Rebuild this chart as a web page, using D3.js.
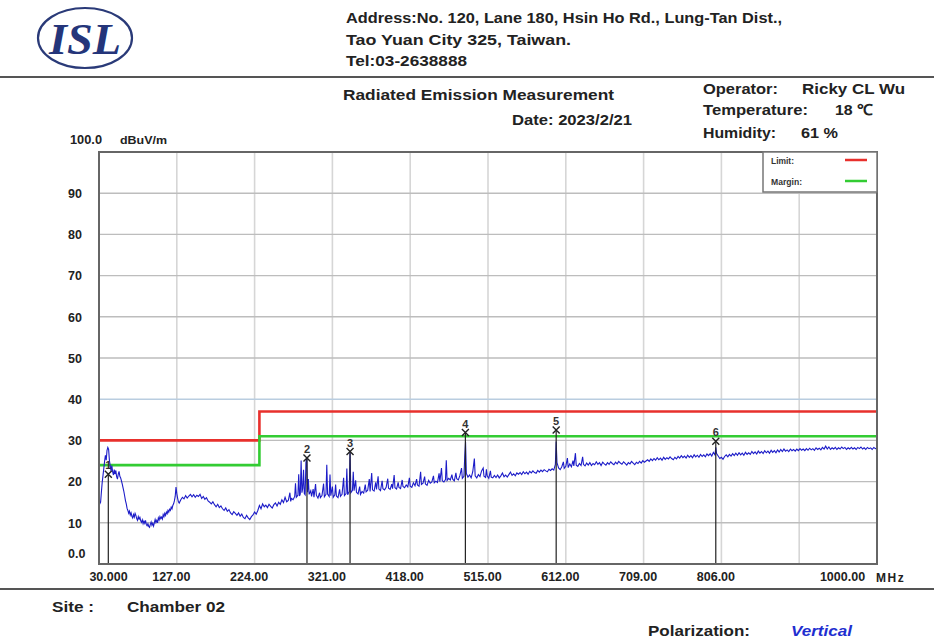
<!DOCTYPE html>
<html>
<head>
<meta charset="utf-8">
<script src="https://cdn.jsdelivr.net/npm/d3@7"></script>
<style>
  html, body { margin: 0; padding: 0; background: #fff; }
  svg { display: block; font-family: "Liberation Sans", Arial, sans-serif; }
</style>
</head>
<body>
<svg id="chart" width="934" height="642"></svg>
<script>
// ---- data ----
const xTickValues = [30, 127, 224, 321, 418, 515, 612, 709, 806, 1000];
const xTickLabels = ["30.000", "127.00", "224.00", "321.00", "418.00", "515.00", "612.00", "709.00", "806.00", "1000.00"];
const xGridValues = [127, 224, 321, 418, 515, 612, 709, 806, 903];
const yTickValues = [0, 10, 20, 30, 40, 50, 60, 70, 80, 90];
const yTickLabels = ["0.0", "10", "20", "30", "40", "50", "60", "70", "80", "90"];

// limit / margin step lines (MHz, dBuV/m)
const limitFreq = [30, 230, 230, 1000];
const limitLevel = [30, 30, 37, 37];
const marginLevel = [24, 24, 31, 31];

// peak markers
const markerIds = ["1", "2", "3", "4", "5", "6"];
const markerFreq = [41.6, 289.3, 343.0, 486.8, 600.0, 799.0];
const markerLevel = [21.8, 25.7, 27.3, 31.9, 32.5, 29.8];

// measured spectrum [MHz, dBuV/m]
const trace = [
[30,16.2],[31,14.6],[32,15.0],[33,17.5],[34,19.8],[35,21.5],[36,23.2],[37,25.0],[38,26.4],[39,25.2],[40,27.6],[41,28.3],[42,27.8],[43,25.1],[44,23.8],[45,22.6],[46,23.9],[47,22.4],[48,21.6],[49,22.9],[50,21.8],[51,22.7],[52,21.2],[53,20.6],[54,21.8],[55,22.5],[56,21.3],[57,20.9],[58,20.2],[59,19.4],[60,18.5],
[61,17.6],[62,16.5],[63,15.4],[64,14.6],[65,13.5],[66,13.0],[67,12.3],[68,12.8],[69,11.9],[70,12.4],[71,11.6],[72,11.2],[73,12.0],[74,11.4],[75,12.3],[76,11.8],[77,11.0],[78,10.6],[79,11.5],[80,10.9],[81,11.3],[82,10.5],[83,10.1],[84,10.7],[85,9.8],[86,10.4],[87,9.9],[88,10.6],[89,9.6],[90,9.3],[91,9.8],[92,9.1],[93,8.9],[94,9.6],[95,10.2],[96,9.4],[97,9.9],[98,9.2],[99,10.0],[100,10.8],[101,10.1],[102,10.6],[103,10.0],[104,11.2],[105,10.7],[106,11.5],[107,11.0],[108,11.4],[109,10.9],[110,12.0],[111,11.5],[112,12.3],[113,11.8],[114,12.6],[115,12.2],[116,13.0],[117,12.6],[118,13.3],[119,13.0],[120,13.8],[121,13.4],[122,14.2],[123,14.6],[124,15.3],[125,16.4],[126,18.7],[127,17.1],[128,16.0],[129,15.1],[130,14.8],
[132,15.6],[134,16.2],[136,15.8],[138,16.6],[140,16.0],[142,16.5],[144,16.9],[146,16.3],[148,16.8],[150,16.2],[152,16.7],[154,16.4],[156,16.9],[158,15.9],[160,16.4],[162,15.7],[164,16.1],[166,15.3],[168,15.0],[170,14.6],[172,15.1],[174,14.4],[176,13.9],[178,14.5],[180,13.7],[182,14.1],[184,13.4],[186,13.0],[188,13.6],[190,12.8],[192,13.2],[194,12.4],[196,12.0],[198,12.7],[200,12.3],[202,11.8],[204,12.4],[206,11.6],[208,12.1],[210,11.3],[212,11.0],[214,11.8],[216,11.2],[218,10.8],[220,11.5],[222,11.9],[224,12.6],[226,12.1],[228,13.0],[230,14.2],[232,13.4],[234,14.6],[236,13.9],[238,14.3],[240,13.7],[242,14.5],[244,14.0],[246,13.6],[248,14.4],[250,14.8],[252,14.1],[254,15.0],[256,14.5],[258,15.6],[260,14.9],[262,16.2],[264,15.1],[266,15.4],[268,17.3],[269,15.2],[270,15.9],[272,15.6],[274,16.4],[275,19.6],[276,16.2],[278,16.7],[279,21.8],[280,16.5],[281,17.0],[282,25.1],[283,17.3],[284,18.4],[285,22.9],[286,17.1],[287,16.8],[288,24.6],[289,25.8],[290,17.4],[291,20.6],[292,16.9],[294,17.8],[295,16.4],[297,18.2],[298,16.2],[300,19.4],[301,16.7],[303,16.0],[305,17.3],[306,16.1],[308,16.6],[310,19.5],[311,16.3],[313,16.9],[314,24.1],[315,17.0],[317,16.4],[318,21.7],[319,16.6],[321,18.8],[322,16.2],[324,16.8],[325,19.3],[326,16.5],[328,16.1],[330,18.1],[331,16.4],[333,16.9],[335,20.9],[336,16.6],[338,17.1],[339,23.2],[340,16.8],[342,17.6],[343,27.2],[344,17.3],[346,17.9],[347,22.4],[348,17.8],[350,20.3],[351,17.4],[353,17.0],[355,18.8],[356,16.9],[358,17.6],[360,17.2],[362,19.3],[363,17.5],[365,17.9],[367,20.6],[368,17.6],[370,22.1],[371,18.0],[373,17.7],[375,19.8],[376,18.1],[378,21.3],[379,18.2],[381,17.8],[383,20.2],[384,18.3],[386,18.0],[388,18.6],[390,20.7],[391,18.4],[393,18.1],[395,19.4],[396,18.3],[398,21.6],[399,18.5],[401,18.2],[403,19.8],[404,18.6],[406,18.3],[408,20.4],[409,18.8],[411,18.5],[413,19.2],[415,18.7],[417,20.9],[418,18.9],[420,18.6],[422,19.7],[424,19.0],[426,20.6],[427,19.2],[429,18.9],[431,22.4],[432,19.3],[434,19.6],[436,21.2],[437,19.4],[439,19.1],[441,20.3],[443,19.6],[445,19.9],[447,21.4],[448,19.7],[450,20.1],[452,19.8],[454,22.0],[455,20.0],[457,23.3],[458,20.2],[460,19.9],[462,20.5],[463,25.2],[464,20.3],[466,20.8],[468,20.4],[470,21.7],[471,20.6],[473,20.2],[475,22.1],[476,20.7],[478,20.4],[480,21.5],[482,23.3],[483,20.8],[485,21.3],[486,26.1],[487,29.6],[488,22.0],[490,21.1],[492,21.6],[494,20.9],[496,22.4],[498,25.6],[499,21.4],[501,20.9],[503,21.7],[505,21.2],[507,22.6],[509,23.3],[510,21.3],[512,21.0],[513,23.0],[514,21.4],[516,20.8],[518,22.6],[519,21.1],[521,20.9],[523,21.5],[525,21.0],[527,21.6],[529,20.9],[531,21.4],[533,22.1],[535,21.2],[537,21.6],[539,21.1],[541,21.7],[543,22.3],[545,21.5],[547,21.9],[549,21.4],[551,22.1],[553,21.8],[555,22.2],[557,21.7],[559,22.4],[561,21.9],[563,22.3],[565,21.8],[567,22.5],[569,22.1],[571,22.6],[573,22.2],[575,22.0],[577,22.7],[579,22.3],[581,22.8],[583,22.4],[585,22.9],[587,22.6],[589,22.4],[591,23.0],[593,22.7],[595,23.1],[597,22.8],[599,24.2],[600,29.7],[601,24.6],[603,23.3],[605,22.9],[607,23.6],[609,24.8],[610,23.2],[612,23.7],[614,25.7],[615,23.4],[617,24.3],[619,23.6],[621,25.1],[622,23.8],[624,26.9],[625,24.0],[627,23.7],[629,24.4],[631,23.9],[633,26.0],[634,24.2],[636,23.8],[638,24.5],[640,24.0],[642,24.6],[644,23.9],[646,24.4],[648,24.1],[650,24.8],[652,24.2],[654,24.6],[656,23.9],[658,24.7],[660,24.3],[662,24.0],[664,24.6],[666,24.2],[668,24.8],[670,24.4],[672,24.1],[674,24.7],[676,24.3],[678,24.9],[680,24.5],[682,24.2],[684,24.8],[686,24.4],[688,24.0],[690,24.6],[692,24.3],[694,24.9],[696,24.5],[698,24.1],[700,24.7],[702,24.4],[704,24.9],[706,24.5],[708,25.1],[710,24.7],[712,25.0],
[714,25.3],[716,24.9],[718,25.5],[720,25.1],[722,25.6],[724,25.2],[726,25.8],[728,25.3],[730,25.7],[732,25.2],[734,25.9],[736,25.4],[738,25.8],[740,25.5],[742,26.0],[744,25.6],[746,25.3],[748,25.9],[750,25.5],[752,26.1],[754,25.7],[756,26.3],[758,25.8],[760,26.2],[762,25.7],[764,26.4],[766,25.9],[768,26.3],[770,25.8],[772,26.5],[774,26.0],[776,26.4],[778,25.9],[780,26.6],[782,26.1],[784,26.5],[786,26.0],[788,26.7],[790,26.3],[792,26.8],[794,26.2],[796,27.1],[798,26.5],[799,28.3],[800,26.8],[802,26.2],[804,25.6],[806,25.9],[808,25.4],[810,26.1],[812,26.5],[814,26.0],[816,26.6],[818,26.2],[820,26.8],[822,26.3],[824,26.9],[826,26.4],[828,27.0],[830,26.5],[832,26.9],[834,26.4],[836,27.1],[838,26.6],[840,27.0],[842,26.6],[844,27.3],[846,26.8],[848,27.2],[850,26.7],[852,27.4],[854,26.9],[856,27.3],[858,26.8],[860,27.5],[862,27.0],[864,27.4],[866,26.9],[868,27.6],[870,27.1],[872,27.5],[874,27.0],[876,27.7],[878,27.2],[880,27.8],[882,27.3],[884,27.9],[886,27.4],[888,27.7],[890,27.3],[892,27.9],[894,27.5],[896,27.8],[898,27.4],[900,27.9],[902,27.5],[904,28.0],[906,27.6],[908,27.9],[910,27.5],[912,28.0],[914,27.6],[916,28.1],[918,27.7],[920,28.0],[922,27.6],[924,28.2],[926,27.8],[928,28.1],[930,27.7],[932,28.3],[934,27.9],[936,28.6],[938,27.9],[940,28.4],[942,27.8],[944,28.2],[946,27.9],[948,28.3],[950,27.8],[952,28.2],[954,27.9],[956,28.4],[958,28.0],[960,28.3],[962,27.8],[964,28.2],[966,27.9],[968,28.3],[970,27.9],[972,28.2],[974,27.8],[976,28.3],[978,28.0],[980,28.4],[982,27.9],[984,28.2],[986,27.8],[988,28.3],[990,28.0],[992,28.2],[994,27.8],[996,28.3],[998,28.0],[1000,28.1]
];

// ---- layout ----
const svg = d3.select("#chart");
const plot = { left: 99, right: 877, top: 152, bottom: 564 };
const x = d3.scaleLinear().domain([30, 1000]).range([plot.left, plot.right]);
const y = d3.scaleLinear().domain([0, 100]).range([plot.bottom, plot.top]);
const ink = "#222";

// bold label fitted to a given width
function label(g, px, py, size, str, width, fill) {
  const t = g.append("text").attr("x", px).attr("y", py)
    .attr("font-size", size).attr("font-weight", "bold").attr("fill", fill || ink).text(str);
  if (width) t.attr("textLength", width).attr("lengthAdjust", "spacingAndGlyphs");
  return t;
}

// ---- letterhead ----
const logo = svg.append("g");
logo.append("ellipse").attr("cx", 85).attr("cy", 38).attr("rx", 47).attr("ry", 30)
  .attr("fill", "#fff").attr("stroke", "#2a3a78").attr("stroke-width", 2.2);
logo.append("text").attr("x", 85).attr("y", 54).attr("text-anchor", "middle")
  .attr("font-family", "'Liberation Serif', 'DejaVu Serif', serif")
  .attr("font-size", 44).attr("font-weight", "bold").attr("font-style", "italic")
  .attr("fill", "#24357a").attr("textLength", 72).attr("lengthAdjust", "spacingAndGlyphs")
  .text("ISL");

const head = svg.append("g");
const addr = [["Address:No. 120, Lane 180, Hsin Ho Rd., Lung-Tan Dist.,", 436],
              ["Tao Yuan City 325, Taiwan.", 225],
              ["Tel:03-2638888", 121]];
addr.forEach((a, i) => label(head, 346, 23 + i * 21.5, 15, a[0], a[1]));

svg.append("line").attr("x1", 0).attr("x2", 934).attr("y1", 77).attr("y2", 77)
  .attr("stroke", "#555").attr("stroke-width", 2);
svg.append("line").attr("x1", 0).attr("x2", 934).attr("y1", 589).attr("y2", 589)
  .attr("stroke", "#555").attr("stroke-width", 2);

// title block
label(head, 343, 100, 15, "Radiated Emission Measurement", 271);
label(head, 512, 125, 15, "Date: 2023/2/21", 120);
const info = [["Operator:", 75, "Ricky CL Wu", 802, 103, 94],
              ["Temperature:", 105, "18 ℃", 835, 38, 115],
              ["Humidity:", 73, "61 %", 801, 37, 138]];
info.forEach(r => {
  label(head, 703, r[5], 15, r[0], r[1]);
  label(head, r[3], r[5], 15, r[2], r[4]);
});

// footer
label(head, 52, 612, 14, "Site :", 42);
label(head, 127, 612, 14, "Chamber 02", 98);
label(head, 648, 636, 14, "Polarization:", 102);
label(head, 791, 636, 14, "Vertical", 61, "#1f2fd0").attr("font-style", "italic");

// ---- grid ----
const grid = svg.append("g");
grid.selectAll("line.v").data(xGridValues).join("line").attr("class", "v")
  .attr("x1", d => x(d)).attr("x2", d => x(d)).attr("y1", plot.top).attr("y2", plot.bottom)
  .attr("stroke", "#d6d6d6").attr("stroke-width", 1.6);
grid.selectAll("line.h").data(yTickValues.filter(v => v > 0)).join("line").attr("class", "h")
  .attr("x1", plot.left).attr("x2", plot.right).attr("y1", d => y(d)).attr("y2", d => y(d))
  .attr("stroke", d => d === 40 ? "#b9cde0" : "#bdbdbd").attr("stroke-width", 1.4);

// ---- axes ----
const xAxis = d3.axisBottom(x).tickValues(xTickValues).tickSize(0)
  .tickFormat((d, i) => xTickLabels[i]);
const gx = svg.append("g").attr("transform", `translate(0,${plot.bottom})`).call(xAxis);
gx.select(".domain").remove();
gx.selectAll("text").attr("font-family", "'Liberation Sans', Arial, sans-serif")
  .attr("font-size", 12.5).attr("font-weight", "bold").attr("fill", ink).attr("dy", "1.1em")
  .attr("dx", (d, i) => i === 0 ? 9 : (i === xTickValues.length - 1 ? -35 : -6));
svg.append("text").attr("x", 876).attr("y", 582).attr("font-size", 12).attr("font-weight", "bold")
  .attr("fill", ink).attr("letter-spacing", 1.5).text("MHz");

const yAxis = d3.axisLeft(y).tickValues(yTickValues).tickSize(0)
  .tickFormat((d, i) => yTickLabels[i]);
const gy = svg.append("g").attr("transform", "translate(68,0)").call(yAxis);
gy.select(".domain").remove();
gy.selectAll("text").attr("font-family", "'Liberation Sans', Arial, sans-serif")
  .attr("font-size", 12.5).attr("font-weight", "bold").attr("fill", ink)
  .attr("text-anchor", "start").attr("x", 0)
  .attr("dy", d => d === 0 ? "-0.55em" : "0.35em");
label(svg, 70, 144, 12.5, "100.0", 32);
label(svg, 120, 144, 11, "dBuV/m", 47);

// ---- limit and margin ----
const stepLine = d3.line().x(d => x(d[0])).y(d => y(d[1]));
svg.append("path").datum(limitFreq.map((f, i) => [f, limitLevel[i]]))
  .attr("d", stepLine).attr("fill", "none").attr("stroke", "#e8302c").attr("stroke-width", 2.6);
svg.append("path").datum(limitFreq.map((f, i) => [f, marginLevel[i]]))
  .attr("d", stepLine).attr("fill", "none").attr("stroke", "#33cc33").attr("stroke-width", 2.6);

// ---- spectrum trace ----
svg.append("path").datum(trace)
  .attr("d", d3.line().x(d => x(d[0])).y(d => y(d[1])))
  .attr("fill", "none").attr("stroke", "#1c1cc8").attr("stroke-width", 1.1);

// ---- markers ----
const mk = svg.append("g").selectAll("g").data(markerIds).join("g");
mk.append("line")
  .attr("x1", (d, i) => x(markerFreq[i])).attr("x2", (d, i) => x(markerFreq[i]))
  .attr("y1", (d, i) => y(markerLevel[i])).attr("y2", plot.bottom)
  .attr("stroke", ink).attr("stroke-width", 1.2);
mk.append("path")
  .attr("d", (d, i) => {
    const cx = x(markerFreq[i]), cy = y(markerLevel[i]);
    return `M${cx - 3.5},${cy - 3.5}L${cx + 3.5},${cy + 3.5}M${cx + 3.5},${cy - 3.5}L${cx - 3.5},${cy + 3.5}`;
  })
  .attr("stroke", ink).attr("stroke-width", 1.4);
mk.append("text")
  .attr("x", (d, i) => x(markerFreq[i])).attr("y", (d, i) => y(markerLevel[i]) - 5)
  .attr("text-anchor", "middle").attr("font-size", 11).attr("font-weight", "bold").attr("fill", "#333")
  .text(d => d);

// ---- frame ----
svg.append("rect").attr("x", plot.left).attr("y", plot.top)
  .attr("width", plot.right - plot.left).attr("height", plot.bottom - plot.top)
  .attr("fill", "none").attr("stroke", "#666").attr("stroke-width", 2);

// ---- legend ----
const lg = svg.append("g");
lg.append("rect").attr("x", 763).attr("y", plot.top).attr("width", plot.right - 763).attr("height", 40)
  .attr("fill", "#fff").attr("stroke", "#777").attr("stroke-width", 1.5);
const legendItems = [["Limit:", "#e8302c", 23], ["Margin:", "#33cc33", 31]];
legendItems.forEach((it, i) => {
  label(lg, 771, 164 + i * 21, 9.5, it[0], it[2], "#333");
  lg.append("line").attr("x1", 845).attr("x2", 867).attr("y1", 160 + i * 21).attr("y2", 160 + i * 21)
    .attr("stroke", it[1]).attr("stroke-width", 2.5);
});
</script>
</body>
</html>
